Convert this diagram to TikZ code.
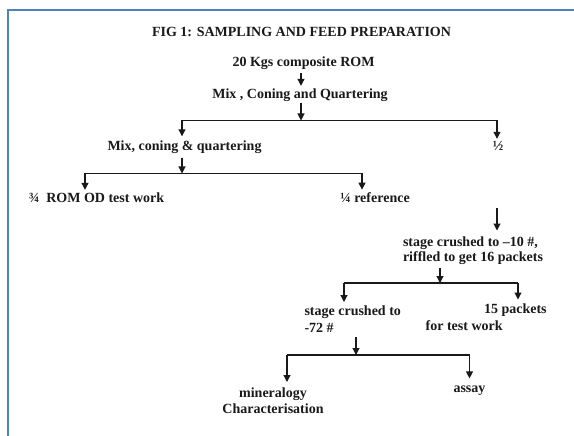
\documentclass[tikz,border=0pt]{standalone}
\usepackage{fontspec}
\setmainfont{Liberation Serif}
\usetikzlibrary{arrows.meta}
\definecolor{framec}{RGB}{79,129,189}
\definecolor{inkc}{RGB}{25,25,25}
\begin{document}
\begin{tikzpicture}[x=1pt,y=-1pt,
  lbl/.style={inner sep=0pt, outer sep=0pt, text=inkc, font=\fontsize{14}{17}\selectfont\bfseries},
  arr/.style={draw=inkc, line width=1.1pt, -{Triangle[length=7pt,width=7pt]}},
  ln/.style={draw=inkc, line width=1.1pt}]
\useasboundingbox (0,0) rectangle (574,436);
\fill[white] (0,0) rectangle (574,436);
\draw[framec, line width=2.2pt] (8,440) -- (8,10) -- (580,10);

% labels
\node[lbl, anchor=base] (title) at (301.5,36.7) {FIG 1: SAMPLING AND FEED PREPARATION};
\node[lbl, anchor=base] (rom) at (303.5,67) {20 Kgs composite ROM};
\node[lbl, anchor=base] (mcq) at (300,99) {Mix , Coning and Quartering};
\node[lbl, anchor=base] (mix) at (184.5,151) {Mix, coning \& quartering};
\node[lbl, anchor=base] (half) at (498,151) {½};
\node[lbl, anchor=base] (ods) at (96.5,203) {¾\ \ ROM OD test work};
\node[lbl, anchor=base] (ref) at (375,203) {¼ reference};
\node[lbl, anchor=north west, align=left, font=\fontsize{14}{14.7}\selectfont\bfseries] (st1) at (403,237)
  {stage crushed to –10 \#,\\riffled to get 16 packets};
\node[lbl, anchor=north west, align=left] (st2) at (304.5,305.5) {stage crushed to\\-72 \#};
\node[lbl, anchor=north west, align=left] (pk) at (425.7,303.5) {\hspace*{58.3pt}15 packets\\for test work};
\node[lbl, anchor=north, align=center, font=\fontsize{14}{16}\selectfont\bfseries] (mnr) at (273,387.5) {mineralogy\\Characterisation};
\node[lbl, anchor=base] (assay) at (469.5,392.5) {assay};

% junctions
\coordinate (j1) at (301,120.5);
\coordinate (j1l) at (182,120.5);
\coordinate (j1r) at (497,120.5);
\coordinate (j2) at (182,173.5);
\coordinate (j2l) at (85,173.5);
\coordinate (j2r) at (362,173.5);
\coordinate (j3) at (440,283);
\coordinate (j3l) at (344,283);
\coordinate (j3r) at (518,283);
\coordinate (j4) at (356,355);
\coordinate (j4l) at (287,355);
\coordinate (j4r) at (469.5,355);
\coordinate (hd) at (497,151);

% connectors
\draw[arr, shorten <=3pt, shorten >=3.5pt] (rom.south -| j1) -- (mcq.north -| j1);
\draw[arr, shorten <=1pt] (mcq.south -| j1) -- (j1);
\draw[ln] (j1l) -- (j1r);
\draw[arr, shorten >=5pt] (j1l) -- (j1l |- mix.north);
\draw[arr, shorten >=3pt] (j1r) -- (j1r |- half.north);

\draw[arr, shorten <=4pt] (mix.south -| j2) -- (j2);
\draw[ln] (j2l) -- (j2r);
\draw[arr, shorten >=3.5pt] (j2l) -- (j2l |- ods.north);
\draw[arr, shorten >=3.5pt] (j2r) -- (j2r |- ref.north);

\draw[arr, shorten <=57pt, shorten >=6.5pt] (half.south -| hd) -- (st1.north -| hd);
\draw[arr, shorten <=3pt] (st1.south -| j3) -- (j3);
\draw[ln] (j3l) -- (j3r);
\draw[arr, shorten >=3.5pt] (j3l) -- (j3l |- st2.north);
\draw[arr, shorten >=4pt] (j3r) -- (j3r |- pk.north);

\draw[arr, shorten <=5pt] (st2.south -| j4) -- (j4);
\draw[ln] (j4l) -- (j4r);
\draw[arr, shorten >=5.5pt] (j4l) -- (j4l |- mnr.north);
\draw[arr, shorten >=7.5pt] (j4r) -- (j4r |- assay.north);
\end{tikzpicture}
\end{document}
